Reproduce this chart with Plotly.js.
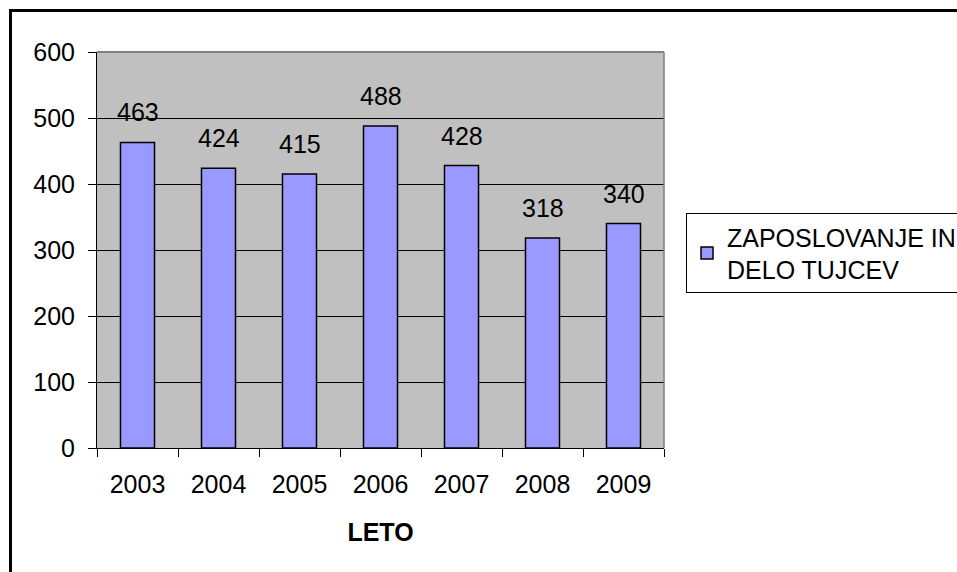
<!DOCTYPE html>
<html>
<head>
<meta charset="utf-8">
<script src="https://cdn.plot.ly/plotly-3.0.1.min.js"></script>
<style>
  html, body { margin: 0; padding: 0; background: #fff; }
  #wrap { position: relative; width: 957px; height: 572px; overflow: hidden; }
  #chart { width: 957px; height: 572px; }
  #frame { position: absolute; left: 9px; top: 9px; width: 1000px; height: 700px;
           border-left: 3px solid #000; border-top: 3px solid #000; pointer-events: none; }
</style>
</head>
<body>
<div id="wrap">
  <div id="chart"></div>
  <div id="frame"></div>
</div>
<script>
const years = ['2003', '2004', '2005', '2006', '2007', '2008', '2009'];
const values = [463, 424, 415, 488, 428, 318, 340];
const seriesName = 'ZAPOSLOVANJE IN<br>DELO TUJCEV';
const xTitle = 'LETO';

const FONT = 'Arial, "Liberation Sans", sans-serif';

const trace = {
  type: 'bar',
  x: years,
  y: values,
  name: seriesName,
  marker: { color: '#9999ff', line: { color: '#000000', width: 1.5 } },
  showlegend: true,
  hoverinfo: 'x+y'
};

// data labels: x given as category index (numeric-looking strings would be read as indices)
const annotations = years.map((yr, i) => ({
  x: i, y: values[i], xref: 'x', yref: 'y',
  text: String(values[i]),
  showarrow: false, yanchor: 'bottom', yshift: 14,
  font: { family: FONT, size: 25, color: '#000' }
}));

const layout = {
  width: 957, height: 572,
  margin: { l: 97, r: 293, t: 52, b: 124, pad: 0 },
  paper_bgcolor: '#ffffff',
  plot_bgcolor: '#c0c0c0',
  font: { family: FONT, size: 25, color: '#000' },
  bargap: 0.58,
  xaxis: {
    type: 'category',
    range: [-0.5, years.length - 0.5],
    autorange: false,
    tickson: 'boundaries',
    ticks: 'outside', ticklen: 8, tickcolor: '#000', tickwidth: 1,
    tickangle: 0,
    ticklabelstandoff: 14,
    showline: true, linecolor: '#000', linewidth: 1,
    showgrid: false, zeroline: false,
    tickfont: { family: FONT, size: 25, color: '#000' },
    title: { text: '<b>' + xTitle + '</b>', font: { family: FONT, size: 25, color: '#000' }, standoff: 26 },
    fixedrange: true
  },
  yaxis: {
    range: [0, 600], dtick: 100, tick0: 0,
    ticks: 'outside', ticklen: 8, tickcolor: '#000', tickwidth: 1,
    ticklabelstandoff: 8,
    showline: true, linecolor: '#000', linewidth: 1,
    showgrid: true, gridcolor: '#000', gridwidth: 1,
    zeroline: false,
    tickfont: { family: FONT, size: 25, color: '#000' },
    fixedrange: true
  },
  legend: {
    xref: 'container', yref: 'container',
    x: 686 / 957, y: 1 - 213 / 572, xanchor: 'left', yanchor: 'top',
    bgcolor: '#ffffff', bordercolor: '#000', borderwidth: 1,
    font: { family: FONT, size: 25, color: '#000' },
    tracegroupgap: 0
  },
  annotations: annotations,
  shapes: [
    { type: 'line', xref: 'paper', yref: 'paper', x0: 0, x1: 1, y0: 1, y1: 1,
      line: { color: '#808080', width: 2 }, layer: 'above' },
    { type: 'line', xref: 'paper', yref: 'paper', x0: 1, x1: 1, y0: 0, y1: 1,
      line: { color: '#808080', width: 1.5 }, layer: 'above' }
  ]
};

Plotly.newPlot('chart', [trace], layout, { displayModeBar: false, staticPlot: true });
</script>
</body>
</html>
